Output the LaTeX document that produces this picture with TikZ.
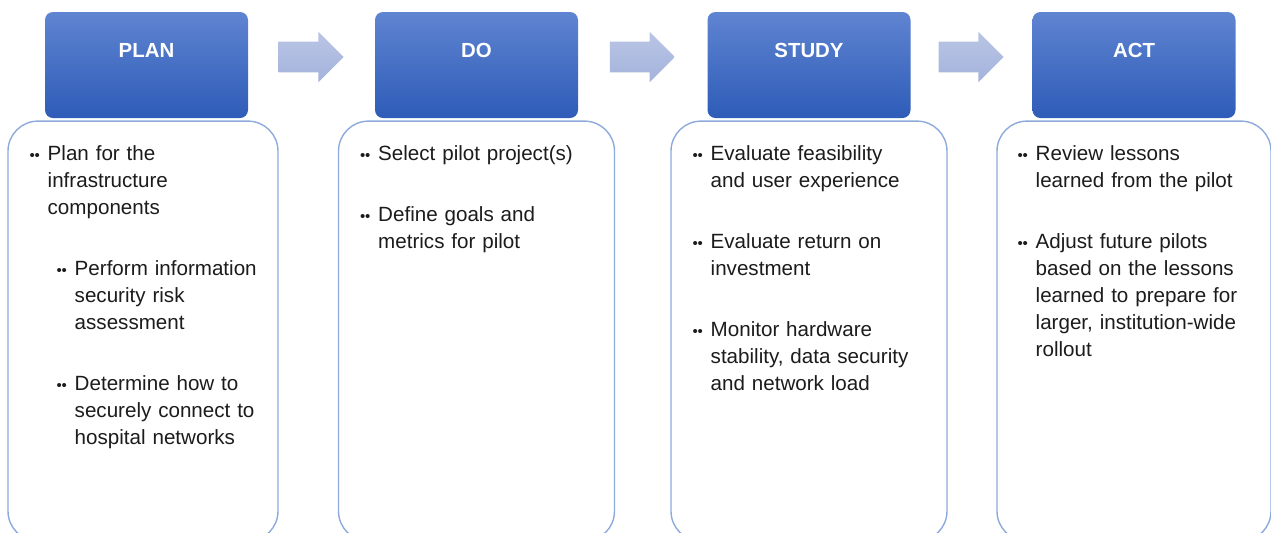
\documentclass[tikz,border=0pt]{standalone}
\usepackage{fontspec}
\setmainfont{Liberation Sans}
\usepackage{xcolor}
\definecolor{headtop}{HTML}{5F84D1}
\definecolor{headbot}{HTML}{2E5CB8}
\definecolor{boxline}{HTML}{8EAADB}
\definecolor{arrowtop}{HTML}{BAC5E5}
\definecolor{arrowbot}{HTML}{A4B3DC}
\definecolor{bodytext}{HTML}{1C1C1C}
\usetikzlibrary{shapes.arrows, positioning, calc}
% two small dots in front of every item
\newcommand{\dbul}{\makebox[9pt][l]{\raisebox{0.4pt}{\fontsize{7.5}{7.5}\selectfont\textbullet\kern-0.2pt\textbullet}}}
% \pitem[left indent]{lines}
\newcommand{\pitem}[2][0pt]{\par\leftskip=#1\relax\hangindent=9pt\hangafter=1\noindent\dbul#2\par}
\newcommand{\pgap}{\vspace{17pt}}
\tikzset{
  phead/.style ={rectangle, rounded corners=4pt, draw=none, top color=headtop, bottom color=headbot,
                 minimum width=101.5pt, minimum height=53pt, inner sep=0pt},
  htext/.style ={text=white, inner sep=0pt, font=\fontsize{10.2}{12}\selectfont\bfseries},
  pbox/.style  ={rectangle, rounded corners=15pt, draw=boxline, line width=0.7pt, fill=white,
                 minimum width=135pt, minimum height=210pt, inner sep=0pt},
  ptext/.style ={anchor=north west, inner sep=0pt, text width=125pt, text=bodytext,
                 font=\fontsize{10.3}{13.5}\selectfont},
  parrow/.style={single arrow, draw=none, top color=arrowtop, bottom color=arrowbot,
                 minimum height=32.5pt, inner xsep=0pt, inner ysep=7.5pt,
                 single arrow head extend=5pt, single arrow head indent=0pt},
}
\begin{document}
\begin{tikzpicture}[x=0.5pt, y=-0.5pt, node distance=1pt]
  \path[use as bounding box] (0,0) rectangle (1271,532);
  \clip (0,0) rectangle (1271,532);
  % stage headers
  \node[phead] (plan)  at (146.5,65) {};
  \node[phead] (do)    at (476.5,65) {};
  \node[phead] (study) at (809,65) {};
  \node[phead] (act)   at (1134,65) {};
  \foreach \h/\t in {plan/PLAN, do/DO, study/STUDY, act/ACT}
    \node[htext] (\h-t) at ($(\h.north)+(0,39)$) {\t};
  % block arrows between the headers
  \node[parrow] (a1) at ($(plan.east)!0.5!(do.west)+(-8,-8)$) {};
  \node[parrow] (a2) at ($(do.east)!0.5!(study.west)+(-8,-8)$) {};
  \node[parrow] (a3) at ($(study.east)!0.5!(act.west)+(-8,-8)$) {};
  % content boxes
  \node[pbox, below=1pt of plan, xshift=-1.75pt] (planbox) {};
  \node[pbox, minimum width=138pt, below=1pt of do] (dobox) {};
  \node[pbox, minimum width=138pt, below=1pt of study] (studybox) {};
  \node[pbox, minimum width=137pt, below=1pt of act] (actbox) {};
  % item lists
  \node[ptext] (plantext) at ($(planbox.north west)+(22,13)$) {%
    \pitem{Plan for the\newline infrastructure\newline components}\pgap
    \pitem[13.5pt]{Perform information\newline security risk\newline assessment}\pgap
    \pitem[13.5pt]{Determine how to\newline securely connect to\newline hospital networks}};
  \node[ptext] (dotext) at ($(dobox.north west)+(22,13)$) {%
    \pitem{Select pilot project(s)}\pgap
    \pitem{Define goals and\newline metrics for pilot}};
  \node[ptext] (studytext) at ($(studybox.north west)+(22,13)$) {%
    \pitem{Evaluate feasibility\newline and user experience}\pgap
    \pitem{Evaluate return on\newline investment}\pgap
    \pitem{Monitor hardware\newline stability, data security\newline and network load}};
  \node[ptext] (acttext) at ($(actbox.north west)+(21,13)$) {%
    \pitem{Review lessons\newline learned from the pilot}\pgap
    \pitem{Adjust future pilots\newline based on the lessons\newline learned to prepare for\newline larger, institution-wide\newline rollout}};
\end{tikzpicture}
\end{document}
